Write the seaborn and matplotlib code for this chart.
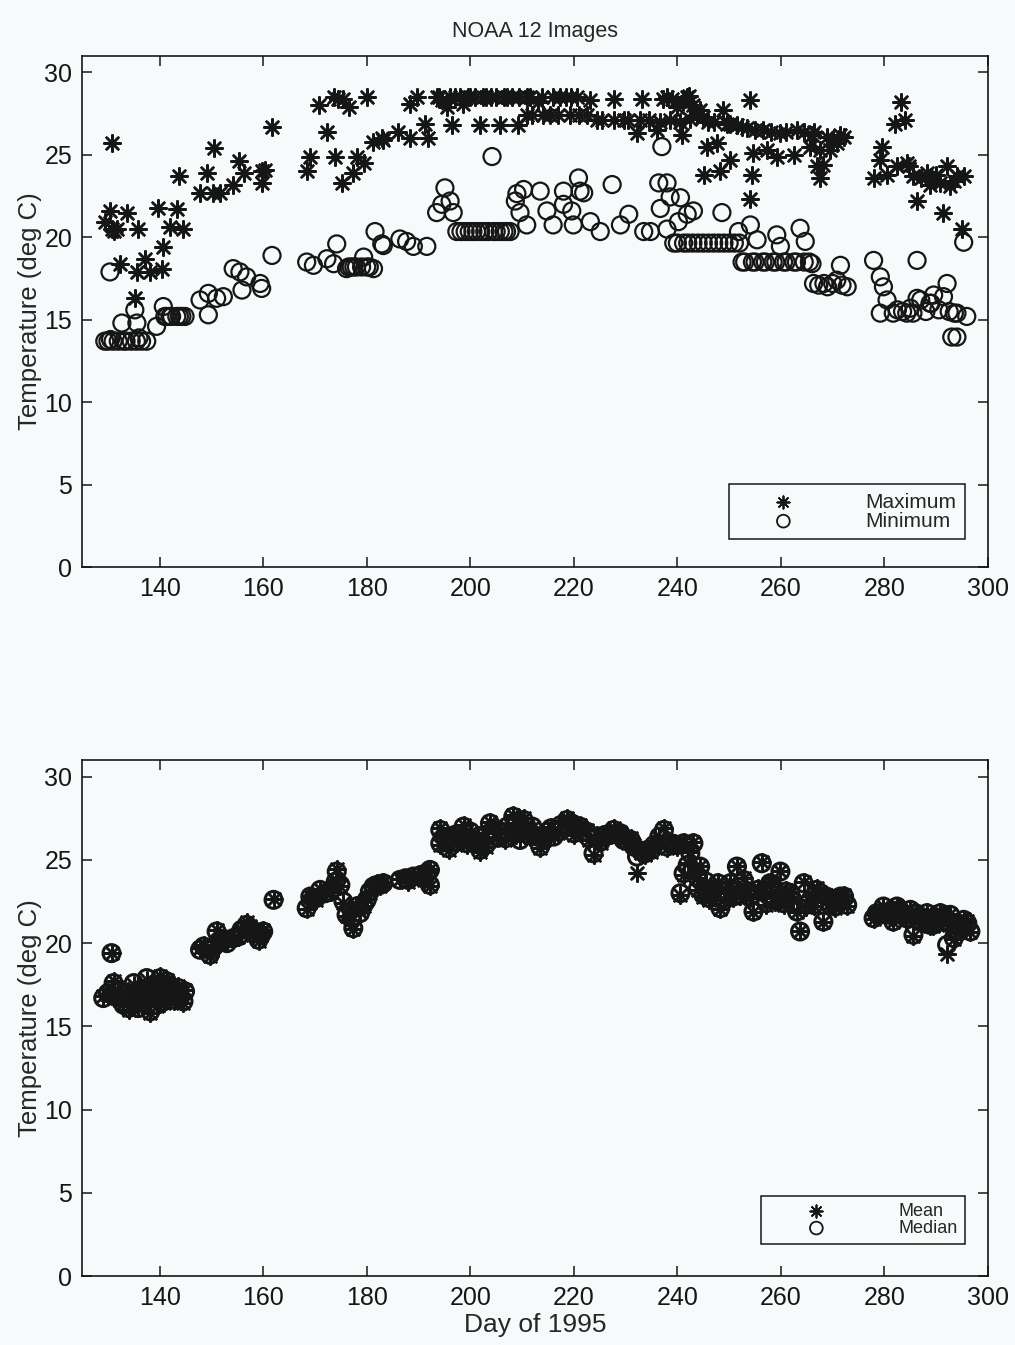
import matplotlib
matplotlib.use("Agg")
import matplotlib.pyplot as plt
import seaborn as sns
import pandas as pd

# ---- top panel: maximum / minimum per image ----
max_day = [129.4, 130.4, 130.7, 130.8, 131.1, 131.7, 132.3, 133.6, 135.2, 135.6, 135.9, 137.2,
           138.2, 139.7, 140.4, 140.7, 142.0, 143.3, 143.7, 144.6, 147.8, 149.2, 150.3, 150.4,
           151.7, 154.2, 155.4, 156.2, 159.7, 159.7, 160.4, 161.7, 168.4, 169.1, 170.7, 172.3,
           173.6, 173.8, 174.5, 175.2, 175.5, 176.5, 177.4, 178.1, 179.4, 180.0, 181.3, 182.9,
           183.2, 186.1, 188.4, 188.4, 189.7, 191.3, 191.9, 193.5, 194.5, 195.5, 196.4, 197.0,
           198.5, 199.5, 201.0, 201.9, 202.5, 204.0, 205.0, 205.8, 206.5, 208.0, 209.3, 209.5,
           210.9, 210.9, 213.1, 213.8, 214.1, 215.4, 217.4, 218.5, 219.3, 220.6, 222.5, 223.2,
           224.4, 227.7, 227.7, 229.6, 232.2, 232.8, 233.2, 236.0, 236.7, 237.3, 238.0, 239.9,
           240.6, 240.9, 241.8, 242.2, 243.8, 244.4, 245.1, 245.7, 247.0, 247.6, 248.3, 248.9,
           250.2, 250.2, 253.4, 254.1, 254.1, 254.4, 254.7, 256.6, 257.3, 259.2, 259.9, 262.5,
           263.1, 265.7, 266.3, 266.9, 267.6, 267.6, 268.2, 268.9, 270.8, 271.5, 272.1, 277.9,
           279.2, 279.5, 280.5, 282.1, 282.4, 283.1, 284.0, 284.3, 285.6, 286.3, 288.2, 289.5,
           290.8, 291.4, 292.1, 292.7, 294.0, 295.0, 295.3,
           194.0, 196.0, 198.0, 200.0, 203.0, 207.0, 211.5, 216.0, 219.5, 212.0, 217.0, 221.0,
           225.5, 230.5, 234.5, 238.5, 242.5, 245.0, 246.0, 249.5, 251.5, 252.5, 255.0, 258.0,
           261.0, 264.5, 266.0, 270.0, 269.5, 284.8, 287.0, 288.8, 290.0, 293.5, 239.0, 241.0,
           243.0]
max_temp = [20.9, 21.6, 25.7, 20.5, 20.4, 20.5, 18.4, 21.5, 16.3, 17.9, 20.5, 18.7,
            17.9, 21.8, 18.1, 19.4, 20.6, 21.7, 23.7, 20.5, 22.7, 23.9, 22.7, 25.4,
            22.7, 23.2, 24.6, 23.9, 24.0, 23.3, 24.1, 26.7, 24.0, 24.9, 28.0, 26.4,
            28.5, 24.9, 28.4, 23.3, 28.4, 27.9, 23.9, 24.9, 24.5, 28.5, 25.8, 26.0,
            25.9, 26.4, 26.0, 28.1, 28.5, 26.9, 26.0, 28.5, 28.3, 27.9, 26.8, 28.5,
            28.1, 28.5, 28.5, 26.8, 28.5, 28.5, 28.5, 26.8, 28.5, 28.5, 26.8, 28.5,
            28.5, 27.4, 28.2, 28.5, 27.4, 27.4, 28.5, 28.5, 27.4, 28.5, 27.4, 28.3,
            27.1, 28.4, 27.1, 27.1, 26.3, 27.1, 28.4, 26.5, 27.0, 28.4, 28.5, 27.9,
            27.0, 26.2, 28.5, 28.6, 27.4, 27.7, 23.8, 25.5, 27.0, 25.7, 24.0, 27.7,
            26.9, 24.7, 26.6, 28.3, 22.3, 23.8, 25.1, 26.5, 25.3, 24.9, 26.3, 25.0,
            26.5, 25.5, 26.4, 24.3, 25.3, 23.6, 24.4, 26.1, 25.7, 26.2, 26.1, 23.6,
            24.7, 25.5, 23.8, 26.9, 24.3, 28.2, 27.1, 24.5, 23.7, 22.2, 23.9, 23.5,
            23.3, 21.5, 24.3, 23.1, 23.7, 20.5, 23.7,
            28.5, 28.5, 28.5, 28.5, 28.5, 28.5, 28.5, 28.5, 28.5, 27.4, 27.4, 27.4,
            27.1, 27.1, 27.1, 27.1, 27.2, 27.3, 27.0, 26.9, 26.8, 26.7, 26.5, 26.4,
            26.4, 26.4, 26.2, 25.9, 25.3, 24.3, 23.6, 23.2, 23.8, 23.4, 28.4, 28.2,
            28.0]

min_day = [129.4, 130.4, 130.5, 132.0, 132.7, 133.5, 135.2, 135.6, 136.0, 137.5, 139.4, 140.7,
           141.4, 142.3, 143.3, 144.9, 147.8, 149.4, 149.4, 151.0, 152.3, 154.2, 155.5, 155.9,
           156.8, 159.4, 159.7, 161.7, 168.4, 169.7, 172.3, 173.6, 174.2, 176.1, 177.0, 178.0,
           179.4, 180.5, 181.3, 181.6, 182.9, 183.2, 186.4, 187.7, 189.0, 191.6, 193.5, 194.5,
           195.1, 196.1, 196.7, 197.4, 199.0, 200.5, 202.0, 203.5, 204.2, 205.0, 206.5, 207.7,
           208.7, 209.0, 209.6, 210.3, 210.9, 213.5, 214.8, 216.0, 218.0, 218.0, 219.6, 219.9,
           220.9, 221.2, 221.9, 223.2, 225.1, 227.4, 229.0, 230.6, 233.5, 234.8, 236.4, 236.7,
           237.0, 238.0, 238.0, 238.6, 239.3, 240.2, 240.6, 241.2, 241.9, 243.1, 243.0, 245.0,
           247.0, 248.6, 249.0, 251.0, 251.8, 252.5, 254.1, 254.5, 255.4, 256.5, 258.5, 259.2,
           259.9, 260.5, 262.5, 263.7, 264.7, 265.5, 266.3, 268.3, 270.8, 271.5, 272.8, 277.9,
           279.2, 279.8, 280.5, 279.2, 281.7, 284.3, 286.3, 286.3, 288.8, 291.4, 292.1, 293.0,
           294.0, 294.0, 295.3, 295.9,
           198.2, 199.8, 201.2, 202.8, 204.5, 205.8, 207.0, 176.5, 177.5, 179.0, 180.0, 141.0,
           142.0, 143.8, 144.3, 130.0, 131.0, 133.0, 134.5, 135.5, 136.5, 240.0, 242.0, 244.0,
           246.0, 248.0, 250.0, 252.0, 253.0, 255.0, 257.0, 259.0, 261.0, 263.0, 264.5, 266.0,
           267.3, 269.0, 270.0, 271.8, 282.5, 283.5, 285.0, 287.0, 288.0, 289.5, 290.5, 292.5,
           293.5, 289.0, 285.5]
min_temp = [13.7, 17.9, 13.8, 13.7, 14.8, 13.7, 15.6, 14.8, 13.9, 13.7, 14.6, 15.8,
            15.2, 15.2, 15.2, 15.2, 16.2, 16.6, 15.3, 16.3, 16.4, 18.1, 17.9, 16.8,
            17.6, 17.2, 16.9, 18.9, 18.5, 18.3, 18.7, 18.4, 19.6, 18.1, 18.2, 18.2,
            18.8, 18.2, 18.1, 20.35, 19.6, 19.5, 19.9, 19.75, 19.45, 19.45, 21.5, 22.0,
            23.0, 22.2, 21.5, 20.35, 20.35, 20.35, 20.35, 20.35, 24.9, 20.35, 20.35, 20.35,
            22.2, 22.65, 21.5, 22.9, 20.75, 22.8, 21.6, 20.75, 22.0, 22.8, 21.6, 20.75,
            23.6, 22.8, 22.7, 20.95, 20.35, 23.2, 20.75, 21.4, 20.35, 20.35, 23.3, 21.75,
            25.5, 23.3, 20.5, 22.45, 19.65, 20.95, 22.4, 19.65, 21.4, 21.6, 19.65, 19.65,
            19.65, 21.5, 19.65, 19.65, 20.35, 18.5, 20.75, 18.5, 19.85, 18.5, 18.5, 20.15,
            19.45, 18.5, 18.5, 20.55, 19.75, 18.5, 17.2, 17.2, 17.4, 18.3, 17.0, 18.6,
            17.6, 17.0, 16.2, 15.4, 15.4, 15.4, 18.6, 16.3, 16.0, 16.4, 17.2, 13.95,
            15.4, 13.95, 19.7, 15.2,
            20.35, 20.35, 20.35, 20.35, 20.35, 20.35, 20.35, 18.2, 18.2, 18.2, 18.2, 15.2,
            15.2, 15.2, 15.2, 13.7, 13.7, 13.7, 13.7, 13.7, 13.7, 19.65, 19.65, 19.65,
            19.65, 19.65, 19.65, 19.65, 18.5, 18.5, 18.5, 18.5, 18.5, 18.5, 18.5, 18.4,
            17.1, 17.0, 17.2, 17.1, 15.6, 15.5, 15.7, 16.2, 15.5, 16.5, 15.6, 15.5,
            15.4, 16.0, 15.4]

# ---- bottom panel: mean / median per image ----
mean_day = [129.1, 130.7, 131.1, 131.1, 132.0, 133.0, 134.3, 135.0, 135.9, 136.8, 137.5, 138.2,
            139.0, 140.1, 140.8, 141.4, 142.0, 143.3, 143.9, 144.6, 144.9, 147.8, 149.7, 150.5,
            151.0, 151.7, 153.0, 154.2, 155.2, 156.8, 158.0, 159.1, 160.0, 162.0, 168.4, 169.1,
            169.7, 171.0, 173.0, 174.2, 174.9, 176.1, 177.4, 178.7, 179.4, 180.0, 181.3, 182.6,
            183.2, 186.4, 187.5, 189.0, 190.5, 192.2, 192.2, 194.2, 194.2, 195.2, 196.1, 197.5,
            198.7, 199.3, 200.5, 201.9, 202.8, 203.8, 205.1, 206.0, 207.1, 208.3, 209.0, 209.6,
            210.9, 212.0, 212.9, 213.5, 215.0, 216.1, 217.5, 218.7, 220.0, 221.2, 222.5, 223.8,
            224.5, 226.0, 227.7, 228.5, 229.6, 230.5, 231.6, 232.2, 233.0, 234.2, 235.5, 237.4,
            238.0, 239.5, 240.6, 241.2, 241.2, 242.5, 243.1, 243.8, 244.4, 245.5, 247.0, 248.3,
            249.5, 250.2, 251.5, 252.1, 253.5, 254.7, 256.3, 256.6, 257.9, 258.8, 259.9, 259.9,
            261.0, 261.8, 263.1, 263.7, 264.4, 265.5, 266.3, 267.6, 268.2, 269.5, 271.5, 272.8,
            277.9, 279.0, 279.8, 281.0, 281.7, 282.4, 283.5, 285.0, 285.6, 286.5, 288.2, 288.8,
            290.0, 290.8, 292.1, 292.7, 293.4, 294.2, 295.3, 296.6,
            130.0, 132.5, 133.8, 135.3, 136.2, 137.0, 138.8, 139.5, 140.5, 141.8, 142.8, 143.6,
            134.0, 137.8, 148.5, 150.0, 152.5, 155.8, 157.5, 159.6, 170.2, 172.0, 174.0, 175.5,
            177.0, 178.0, 180.6, 182.0, 188.0, 191.0, 191.6, 195.8, 197.0, 198.0, 200.0, 201.0,
            203.0, 204.5, 206.8, 208.8, 210.3, 211.5, 214.2, 215.6, 217.0, 219.5, 220.6, 223.0,
            225.2, 227.0, 229.0, 231.0, 233.8, 235.0, 236.5, 238.8, 240.0, 242.0, 244.0, 245.0,
            246.2, 247.8, 249.0, 250.8, 252.8, 254.0, 255.5, 257.2, 258.3, 260.5, 262.4, 264.9,
            266.9, 268.8, 270.5, 271.0, 272.2, 278.5, 280.4, 282.9, 284.2, 286.0, 287.0, 287.6,
            289.4, 291.4, 292.4, 293.9, 295.0, 296.0]
mean_temp = [16.8, 19.4, 17.7, 16.7, 17.2, 16.4, 16.6, 17.5, 16.2, 17.0, 17.8, 15.8,
             16.9, 18.0, 16.4, 17.8, 16.8, 17.0, 16.8, 16.4, 17.2, 19.7, 19.2, 19.9,
             20.8, 20.0, 20.15, 20.25, 20.35, 21.25, 20.5, 20.15, 20.8, 22.65, 22.05, 22.85,
             22.65, 23.25, 23.05, 24.45, 23.45, 21.65, 20.85, 21.85, 22.25, 22.65, 23.45, 23.45,
             23.65, 23.85, 23.9, 24.05, 24.0, 24.45, 23.45, 26.9, 25.9, 26.4, 26.3, 26.0,
             27.1, 25.9, 26.1, 25.5, 26.6, 27.3, 26.3, 26.8, 26.9, 27.7, 27.2, 26.3,
             27.1, 26.9, 26.5, 25.7, 26.6, 26.5, 27.0, 27.5, 26.5, 27.1, 26.8, 25.3,
             26.5, 26.4, 26.9, 26.5, 26.3, 26.0, 25.9, 24.2, 25.4, 25.7, 25.8, 26.9,
             25.7, 26.0, 22.9, 26.1, 24.1, 25.5, 26.1, 23.9, 24.65, 23.6, 23.3, 22.05,
             23.0, 23.65, 24.65, 22.85, 23.2, 21.85, 24.85, 23.05, 23.65, 22.5, 24.35, 22.65,
             23.2, 23.05, 21.85, 20.75, 23.65, 22.6, 22.25, 23.05, 21.25, 22.4, 22.85, 22.25,
             21.45, 21.8, 22.25, 21.6, 21.25, 22.25, 21.7, 22.05, 20.45, 21.5, 21.85, 21.05,
             21.3, 21.85, 19.35, 21.75, 20.25, 21.0, 21.45, 20.65,
             16.9, 16.8, 17.1, 16.5, 17.3, 16.3, 17.6, 16.2, 17.2, 17.5, 16.5, 17.4,
             16.0, 16.8, 19.9, 19.5, 20.3, 20.7, 21.0, 20.6, 22.6, 23.1, 23.8, 22.4,
             21.4, 22.3, 23.0, 23.6, 23.7, 23.8, 24.3, 25.6, 26.6, 26.2, 26.6, 26.0,
             25.8, 26.9, 26.2, 26.5, 27.5, 26.4, 26.2, 27.0, 26.6, 27.3, 26.8, 26.2,
             26.0, 26.6, 26.7, 26.3, 25.3, 25.5, 26.3, 25.9, 25.8, 24.8, 23.2, 22.8,
             22.6, 23.7, 22.6, 22.7, 23.9, 22.7, 23.3, 22.3, 23.6, 22.3, 22.6, 22.2,
             23.3, 22.9, 22.1, 22.6, 22.9, 21.7, 21.9, 21.9, 21.4, 21.9, 21.2, 21.6,
             21.0, 21.7, 21.1, 20.6, 20.9, 21.3]

median_day = [129.1, 130.7, 131.1, 131.3, 132.0, 133.0, 134.3, 135.0, 135.9, 136.8, 137.5, 138.2,
              139.0, 140.1, 140.8, 141.4, 142.0, 143.3, 143.9, 144.6, 144.9, 147.8, 149.7, 150.5,
              151.0, 151.7, 153.0, 154.2, 155.2, 156.8, 158.0, 159.1, 160.0, 162.0, 168.4, 169.1,
              169.7, 171.0, 173.0, 174.2, 174.9, 176.1, 177.4, 178.7, 179.4, 180.0, 181.3, 182.6,
              183.2, 186.4, 187.5, 189.0, 190.5, 192.2, 192.2, 194.2, 194.2, 195.2, 196.1, 197.5,
              198.7, 199.3, 200.5, 201.9, 202.8, 203.8, 205.1, 206.0, 207.1, 208.3, 209.0, 209.6,
              210.9, 212.0, 212.9, 213.5, 215.0, 216.1, 217.5, 218.7, 220.0, 221.2, 222.5, 223.8,
              224.5, 226.0, 227.7, 228.5, 229.6, 230.5, 231.6, 232.2, 233.0, 234.2, 235.5, 237.4,
              238.0, 239.5, 240.6, 241.2, 241.2, 242.5, 243.1, 243.8, 244.4, 245.5, 247.0, 248.3,
              249.5, 250.2, 251.5, 252.1, 253.5, 254.7, 256.3, 256.6, 257.9, 258.8, 259.9, 259.9,
              261.0, 261.8, 263.1, 263.7, 264.4, 265.5, 266.3, 267.6, 268.2, 269.5, 271.5, 272.8,
              277.9, 279.0, 279.8, 281.0, 281.7, 282.4, 283.5, 285.0, 285.6, 286.5, 288.2, 288.8,
              290.0, 290.8, 292.1, 292.7, 293.4, 294.2, 295.3, 296.6,
              130.0, 132.5, 133.8, 135.3, 136.2, 137.0, 138.8, 139.5, 140.5, 141.8, 142.8, 143.6,
              134.0, 137.8, 148.5, 150.0, 152.5, 155.8, 157.5, 159.6, 170.2, 172.0, 174.0, 175.5,
              177.0, 178.0, 180.6, 182.0, 188.0, 191.0, 191.6, 195.8, 197.0, 198.0, 200.0, 201.0,
              203.0, 204.5, 206.8, 208.8, 210.3, 211.5, 214.2, 215.6, 217.0, 219.5, 220.6, 223.0,
              225.2, 227.0, 229.0, 231.0, 233.8, 235.0, 236.5, 238.8, 240.0, 242.0, 244.0, 245.0,
              246.2, 247.8, 249.0, 250.8, 252.8, 254.0, 255.5, 257.2, 258.3, 260.5, 262.4, 264.9,
              266.9, 268.8, 270.5, 271.0, 272.2, 278.5, 280.4, 282.9, 284.2, 286.0, 287.0, 287.6,
              289.4, 291.4, 292.4, 293.9, 295.0, 296.0]
median_temp = [16.7, 19.4, 17.6, 16.8, 17.1, 16.3, 16.7, 17.6, 16.1, 17.1, 17.9, 15.9,
               16.8, 17.9, 16.5, 17.7, 16.9, 17.1, 16.7, 16.5, 17.1, 19.6, 19.3, 19.8,
               20.7, 20.1, 20.0, 20.3, 20.4, 21.1, 20.6, 20.2, 20.7, 22.6, 22.1, 22.8,
               22.7, 23.2, 23.1, 24.3, 23.5, 21.7, 20.9, 21.8, 22.3, 22.6, 23.4, 23.5,
               23.6, 23.8, 23.9, 24.0, 24.1, 24.4, 23.5, 26.8, 26.0, 26.3, 26.4, 26.1,
               27.0, 26.0, 26.2, 25.6, 26.5, 27.2, 26.4, 26.7, 27.0, 27.6, 27.3, 26.2,
               27.0, 27.0, 26.4, 25.8, 26.7, 26.4, 27.1, 27.4, 26.6, 27.0, 26.7, 25.4,
               26.4, 26.5, 26.8, 26.6, 26.2, 26.1, 25.8, 25.2, 25.5, 25.6, 25.9, 26.8,
               25.8, 25.9, 23.0, 26.0, 24.2, 25.4, 26.0, 24.0, 24.6, 23.7, 23.2, 22.1,
               23.1, 23.6, 24.6, 22.9, 23.1, 21.9, 24.8, 23.1, 23.6, 22.6, 24.3, 22.7,
               23.1, 23.0, 21.9, 20.7, 23.6, 22.5, 22.3, 23.0, 21.3, 22.3, 22.8, 22.3,
               21.5, 21.7, 22.2, 21.7, 21.3, 22.2, 21.8, 22.0, 20.5, 21.4, 21.8, 21.1,
               21.2, 21.8, 19.9, 21.7, 20.3, 21.1, 21.4, 20.7,
               17.0, 16.7, 17.0, 16.6, 17.2, 16.4, 17.5, 16.3, 17.3, 17.4, 16.6, 17.3,
               16.1, 16.9, 19.8, 19.6, 20.2, 20.8, 20.9, 20.5, 22.7, 23.0, 23.7, 22.5,
               21.5, 22.2, 23.1, 23.5, 23.8, 23.9, 24.2, 25.7, 26.5, 26.3, 26.7, 26.1,
               25.9, 26.8, 26.3, 26.6, 27.4, 26.5, 26.3, 26.9, 26.7, 27.2, 26.9, 26.3,
               26.1, 26.5, 26.6, 26.2, 25.4, 25.6, 26.4, 26.0, 25.9, 24.7, 23.3, 22.9,
               22.7, 23.6, 22.7, 22.8, 23.8, 22.8, 23.2, 22.4, 23.5, 22.4, 22.5, 22.3,
               23.2, 22.8, 22.2, 22.7, 22.8, 21.8, 21.8, 22.0, 21.5, 21.8, 21.3, 21.5,
               21.1, 21.6, 21.2, 20.7, 21.0, 21.2]

day_ticks = [140, 160, 180, 200, 220, 240, 260, 280, 300]
temp_ticks = [0, 5, 10, 15, 20, 25, 30]

sns.set_style("ticks")
plt.rcParams["font.family"] = ["Liberation Sans", "DejaVu Sans"]

bg = "#f7fafa"
fig = plt.figure(figsize=(10.15, 13.45), dpi=100, facecolor=bg)
ax1 = fig.add_axes([0.0808, 0.5784, 0.8926, 0.3800])
ax2 = fig.add_axes([0.0808, 0.0513, 0.8926, 0.3836])

top_max = pd.DataFrame({"day": max_day, "temp": max_temp})
top_min = pd.DataFrame({"day": min_day, "temp": min_temp})
bot_mean = pd.DataFrame({"day": mean_day, "temp": mean_temp})
bot_med = pd.DataFrame({"day": median_day, "temp": median_temp})

star = (8, 2, 0)
ink = "#161616"


def draw(ax, df_star, df_circ, lab_star, lab_circ, circ_lw):
    sns.scatterplot(data=df_star, x="day", y="temp", ax=ax, marker=star, s=140,
                    color=ink, edgecolor=None, linewidth=1.8, label=lab_star)
    sns.scatterplot(data=df_circ, x="day", y="temp", ax=ax, marker="o", s=150,
                    facecolor="none", edgecolor=ink, linewidth=circ_lw, label=lab_circ)


draw(ax1, top_max, top_min, "Maximum", "Minimum", 1.6)
draw(ax2, bot_mean, bot_med, "Mean", "Median", 2.2)

for ax in (ax1, ax2):
    ax.set_facecolor(bg)
    ax.set_xlim(125, 300)
    ax.set_ylim(0, 31)
    ax.set_xticks(day_ticks)
    ax.set_yticks(temp_ticks)
    ax.tick_params(direction="in", length=7, width=1.1, top=True, right=True,
                   labelsize=18, pad=7, colors=ink)
    for sp in ax.spines.values():
        sp.set_visible(True)
        sp.set_linewidth(1.2)
        sp.set_color(ink)
    ax.set_ylabel("Temperature (deg C)", fontsize=18.5, labelpad=2)
    ax.set_xlabel("")

ax1.set_title("NOAA 12 Images", fontsize=15.5, pad=14)
ax2.set_xlabel("Day of 1995", fontsize=19, labelpad=2)

leg1 = ax1.legend(loc="lower right", bbox_to_anchor=(0.9746, 0.055), fontsize=15,
                  frameon=True, fancybox=False, handlelength=4.4, handletextpad=1.75,
                  labelspacing=0.0, borderpad=0.4, markerscale=0.75, borderaxespad=0)
leg2 = ax2.legend(loc="lower right", bbox_to_anchor=(0.9746, 0.062), fontsize=13,
                  frameon=True, fancybox=False, handlelength=5.3, handletextpad=1.9,
                  labelspacing=0.0, borderpad=0.4, markerscale=0.75, borderaxespad=0)
for leg in (leg1, leg2):
    fr = leg.get_frame()
    fr.set_edgecolor(ink)
    fr.set_linewidth(1.1)
    fr.set_facecolor(bg)
    fr.set_alpha(1)
    for h in leg.legend_handles:
        h.set_linewidth(1.3)

fig.savefig("out.png", dpi=100, facecolor=bg)
